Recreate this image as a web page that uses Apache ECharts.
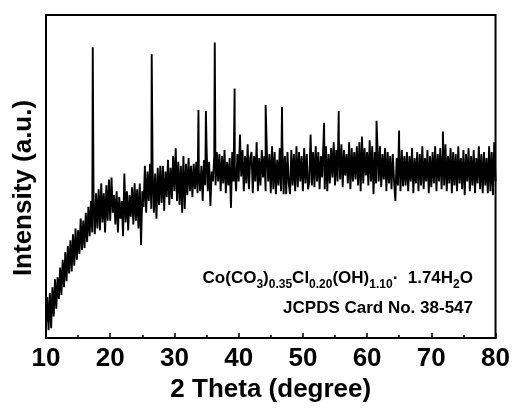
<!DOCTYPE html>
<html>
<head>
<meta charset="utf-8">
<script src="https://cdn.jsdelivr.net/npm/echarts@6/dist/echarts.min.js"></script>
<style>
  html, body { margin: 0; padding: 0; background: #fff; }
  #chart { width: 513px; height: 408px; }
</style>
</head>
<body>
<div id="chart"></div>
<script>
// 2θ sampling grid of the background trace
const thetaStart = 10;
const thetaStep = 0.2;

// background intensity (a.u.), one value per 0.2° from 10° to 80°
const background = [
  12, 42, 8, 46, 10, 52, 22, 60, 30, 62,
  40, 72, 44, 80, 52, 88, 58, 94, 66, 100,
  68, 106, 74, 112, 80, 110, 86, 122, 90, 120,
  92, 128, 98, 134, 104, 140, 108, 146, 106, 148,
  112, 152, 110, 158, 118, 148, 108, 156, 120, 162,
  120, 164, 128, 146, 116, 150, 108, 144, 122, 140,
  104, 168, 118, 150, 110, 146, 124, 154, 116, 158,
  120, 152, 112, 158, 95, 150, 134, 176, 128, 170,
  140, 178, 132, 172, 128, 168, 122, 174, 136, 176,
  138, 176, 130, 170, 144, 182, 136, 174, 142, 186,
  150, 194, 140, 180, 136, 176, 128, 186, 132, 178,
  146, 184, 150, 176, 144, 178, 152, 180, 148, 170,
  150, 176, 140, 182, 156, 196, 150, 180, 135, 170,
  160, 186, 156, 190, 160, 188, 150, 186, 158, 192,
  148, 180, 156, 184, 133, 190, 160, 176, 150, 188,
  160, 208, 165, 192, 150, 186, 158, 198, 152, 184,
  190, 148, 186, 160, 200, 150, 184, 156, 192, 164,
  186, 150, 190, 160, 188, 148, 196, 152, 190, 147,
  182, 156, 194, 150, 200, 147, 186, 147, 190, 158,
  147, 192, 156, 188, 150, 196, 154, 190, 160, 186,
  150, 194, 158, 188, 152, 160, 208, 156, 190, 154,
  196, 160, 190, 152, 186, 164, 200, 152, 196, 150,
  188, 158, 194, 164, 200, 156, 192, 160, 204, 162,
  198, 154, 192, 166, 188, 158, 200, 152, 194, 160,
  190, 162, 196, 156, 200, 150, 206, 158, 194, 166,
  190, 156, 202, 160, 196, 147, 190, 158, 198, 160,
  196, 154, 188, 162, 194, 150, 190, 158, 186, 152,
  188, 160, 140, 184, 156, 196, 150, 192, 155, 186,
  156, 190, 150, 186, 160, 194, 148, 184, 158, 190,
  150, 188, 156, 196, 152, 184, 160, 192, 148, 186,
  154, 190, 158, 196, 150, 188, 160, 194, 152, 192,
  156, 198, 150, 186, 158, 194, 148, 190, 156, 188,
  150, 196, 158, 184, 152, 192, 146, 188, 160, 194,
  150, 186, 156, 192, 148, 184, 158, 196, 152, 188,
  148, 190, 156, 184, 148, 196, 150, 190, 146, 200,
  160
];

// diffraction peaks: 2θ position and peak-top intensity (a.u.)
const peakTheta  = [17.28, 26.46, 33.74, 34.90, 36.28, 39.37, 44.20, 46.75, 53.30, 55.58, 61.47, 64.98, 71.80];
const peakHeight = [297,   290,   233,   232,   302,   255,   238,   236,   220,   232,   222,   212,   211];

// axis ticks
const xTicks = [10, 20, 30, 40, 50, 60, 70, 80];

const points = background.map((v, i) => [+(thetaStart + i * thetaStep).toFixed(2), v]);
peakTheta.forEach((t, i) => points.push([t, peakHeight[i]]));
points.sort((a, b) => a[0] - b[0]);

const FONT = '"Liberation Sans", Arial, Helvetica, sans-serif';

const chart = echarts.init(document.getElementById('chart'), null, { renderer: 'canvas' });
chart.setOption({
  animation: false,
  backgroundColor: '#fff',
  grid: {
    left: 46, right: 15, top: 15, bottom: 63,
    show: true, borderColor: '#000', borderWidth: 2, backgroundColor: 'transparent'
  },
  xAxis: {
    type: 'value',
    min: xTicks[0], max: xTicks[xTicks.length - 1], interval: 10,
    name: '2 Theta (degree)',
    nameLocation: 'middle',
    nameGap: 36,
    nameTextStyle: { fontFamily: FONT, fontWeight: 'bold', fontSize: 26, color: '#000' },
    axisLine: { show: true, lineStyle: { color: '#000', width: 2 } },
    axisTick: { show: true, inside: true, length: 5, lineStyle: { color: '#000', width: 1.5 } },
    minorTick: { show: true, splitNumber: 2, length: 3, lineStyle: { color: '#000', width: 1.5 } },
    axisLabel: { fontFamily: FONT, fontWeight: 'bold', fontSize: 26, color: '#000', margin: 8 },
    splitLine: { show: false }
  },
  yAxis: {
    type: 'value',
    min: 0, max: 330,
    axisLine: { show: true, lineStyle: { color: '#000', width: 2 } },
    axisTick: { show: false },
    axisLabel: { show: false },
    splitLine: { show: false }
  },
  title: [
    {
      text: '{n|Co(CO}{s|3}{n|)}{s|0.35}{n|Cl}{s|0.20}{n|(OH)}{s|1.10}{n|·  1.74H}{s|2}{n|O}',
      right: 40, top: 265, padding: 0,
      textStyle: {
        fontFamily: FONT, fontWeight: 'bold', fontSize: 17, color: '#000',
        rich: {
          n: { fontFamily: FONT, fontWeight: 'bold', fontSize: 17, color: '#000', lineHeight: 26 },
          s: { fontFamily: FONT, fontWeight: 'bold', fontSize: 12, color: '#000', lineHeight: 12, verticalAlign: 'bottom' }
        }
      }
    },
    {
      text: 'JCPDS Card No. 38-547',
      right: 40, top: 300, padding: 0,
      textStyle: { fontFamily: FONT, fontWeight: 'bold', fontSize: 17, color: '#000' }
    }
  ],
  graphic: [
    {
      type: 'text',
      x: 24, y: 188,
      rotation: Math.PI / 2,
      style: {
        text: 'Intensity (a.u.)',
        font: 'bold 26px ' + FONT,
        fill: '#000',
        align: 'center',
        verticalAlign: 'middle'
      }
    }
  ],
  series: [{
    type: 'line',
    data: points,
    showSymbol: false,
    symbol: 'none',
    sampling: null,
    lineStyle: { color: '#000', width: 1.9 },
    z: 2
  }]
});
</script>
</body>
</html>
